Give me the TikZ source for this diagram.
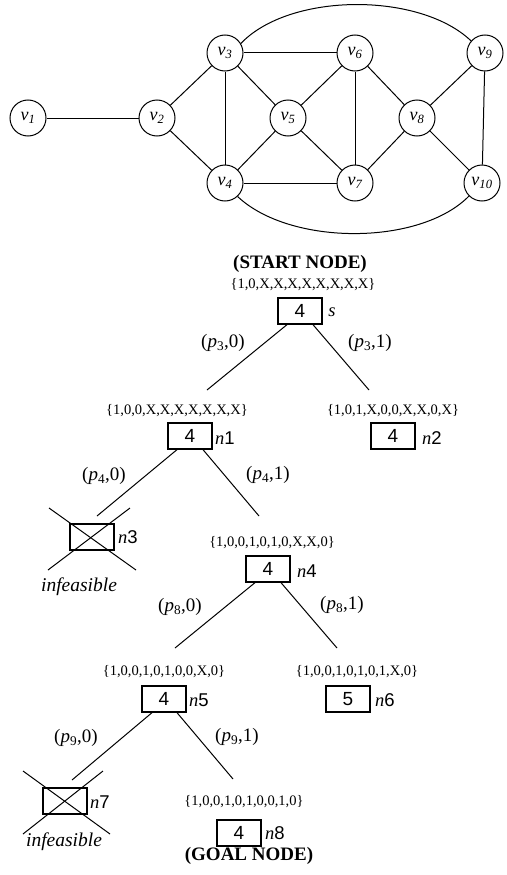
\documentclass[tikz,border=0pt]{standalone}
\usepackage{fontspec}
\setmainfont{Liberation Serif}
\newfontfamily\boxfont{Liberation Sans}
\usetikzlibrary{calc}
\tikzset{
  vtx/.style={draw, circle, line width=1pt, minimum size=36pt, inner sep=0pt, font=\fontsize{18}{18}\selectfont\itshape},
  edge/.style={line width=1pt},
  bx/.style={draw, line width=1.3pt, minimum width=44pt, minimum height=26pt, inner sep=0pt, font=\fontsize{19}{19}\boxfont},
  setlbl/.style={font=\fontsize{14.5}{14.5}\selectfont, inner sep=0pt},
  nlbl/.style={font=\fontsize{18.5}{18.5}\selectfont, inner sep=0pt},
  plbl/.style={font=\fontsize{19}{19}\selectfont, inner sep=0pt},
  captxt/.style={font=\fontsize{19}{19}\selectfont\bfseries, inner sep=0pt},
  infl/.style={font=\fontsize{19.5}{19.5}\selectfont\itshape, inner sep=0pt},
}
\newcommand{\nn}[1]{\textit{n}{\boxfont #1}}
\newcommand{\pl}[2]{(\textit{p}\textsubscript{#1},#2)}
\begin{document}
\begin{tikzpicture}[x=1pt,y=-1pt]
\useasboundingbox (0,0) rectangle (506,875);
% graph
\node[vtx] (v1) at (28,118) {v\textsubscript{1}};
\node[vtx] (v2) at (157,118) {v\textsubscript{2}};
\node[vtx] (v3) at (225,53) {v\textsubscript{3}};
\node[vtx] (v4) at (225,183) {v\textsubscript{4}};
\node[vtx] (v5) at (288,118) {v\textsubscript{5}};
\node[vtx] (v6) at (355,53) {v\textsubscript{6}};
\node[vtx] (v7) at (355,183) {v\textsubscript{7}};
\node[vtx] (v8) at (417,118) {v\textsubscript{8}};
\node[vtx] (v9) at (485,53) {v\textsubscript{9}};
\node[vtx] (v10) at (482,183) {v\textsubscript{10}};
\foreach \a/\b in {v1/v2,v2/v3,v2/v4,v3/v4,v3/v5,v3/v6,v4/v5,v4/v7,v5/v6,v5/v7,v6/v7,v6/v8,v7/v8,v8/v9,v8/v10,v9/v10}
  \draw[edge] (\a) -- (\b);
\draw[edge] (v3.31) .. controls (290,-8) and (420,-8) .. (v9.139);
\draw[edge] (v4.-47) .. controls (290,246) and (420,246) .. (v10.-135);
% tree
\node[captxt] (start) at (300,264) {(START NODE)};
\node[setlbl] (ls) at (303,285) {\{1,0,X,X,X,X,X,X,X,X\}};
\node[bx] (s) at (300,311) {4};
\node[nlbl] (ns) at (332,312) {\textit{s}};
\coordinate (es1) at (207,390);
\coordinate (es2) at (369,390);
\draw[edge] ([xshift=-13pt]s.south) -- (es1);
\draw[edge] ([xshift=13pt]s.south) -- (es2);
\node[plbl] (p30) at (223,343) {\pl{3}{0}};
\node[plbl] (p31) at (370,343) {\pl{3}{1}};

\node[setlbl] (l1) at (177,411) {\{1,0,0,X,X,X,X,X,X,X\}};
\node[bx] (n1) at (190,436) {4};
\node[nlbl] (nn1) at (225,438) {\nn{1}};
\node[setlbl] (l2) at (393,411) {\{1,0,1,X,0,0,X,X,0,X\}};
\node[bx] (n2) at (393,436) {4};
\node[nlbl] (nn2) at (432,438) {\nn{2}};
\coordinate (e11) at (97,516);
\coordinate (e12) at (259,516);
\draw[edge] ([xshift=-13pt]n1.south) -- (e11);
\draw[edge] ([xshift=13pt]n1.south) -- (e12);
\node[plbl] (p40) at (104,476) {\pl{4}{0}};
\node[plbl] (p41) at (268,475) {\pl{4}{1}};

\node[bx] (n3) at (92,537) {};
\node[nlbl] (nn3) at (128,537) {\nn{3}};
\draw[edge] ($(n3)+(-43,-29)$) -- ($(n3)+(44,33)$);
\draw[edge] ($(n3)+(38,-29)$) -- ($(n3)+(-44,33)$);
\node[infl] (inf1) at (79,587) {infeasible};

\node[setlbl] (l4) at (272,543) {\{1,0,0,1,0,1,0,X,X,0\}};
\node[bx] (n4) at (268,569) {4};
\node[nlbl] (nn4) at (307,571) {\nn{4}};
\coordinate (e41) at (175,648);
\coordinate (e42) at (337,648);
\draw[edge] ([xshift=-13pt]n4.south) -- (e41);
\draw[edge] ([xshift=13pt]n4.south) -- (e42);
\node[plbl] (p80) at (180,607) {\pl{8}{0}};
\node[plbl] (p81) at (342,605) {\pl{8}{1}};

\node[setlbl] (l5) at (164,672) {\{1,0,0,1,0,1,0,0,X,0\}};
\node[bx] (n5) at (164,699) {4};
\node[nlbl] (nn5) at (199,700) {\nn{5}};
\node[setlbl] (l6) at (357,672) {\{1,0,0,1,0,1,0,1,X,0\}};
\node[bx] (n6) at (348,699) {5};
\node[nlbl] (nn6) at (385,700) {\nn{6}};
\coordinate (e51) at (72,780);
\coordinate (e52) at (233,779);
\draw[edge] ([xshift=-12pt]n5.south) -- (e51);
\draw[edge] ([xshift=13pt]n5.south) -- (e52);
\node[plbl] (p90) at (76,738) {\pl{9}{0}};
\node[plbl] (p91) at (237,737) {\pl{9}{1}};

\node[bx] (n7) at (65,801) {};
\node[nlbl] (nn7) at (100,802) {\nn{7}};
\draw[edge] ($(n7)+(-42,-30)$) -- ($(n7)+(45,33)$);
\draw[edge] ($(n7)+(38,-30)$) -- ($(n7)+(-42,33)$);
\node[infl] (inf2) at (64,842) {infeasible};

\node[setlbl] (l8) at (244,802) {\{1,0,0,1,0,1,0,0,1,0\}};
\node[bx] (n8) at (239,833) {4};
\node[nlbl] (nn8) at (275,833) {\nn{8}};
\node[captxt] (goal) at (249,856) {(GOAL NODE)};
\end{tikzpicture}
\end{document}
